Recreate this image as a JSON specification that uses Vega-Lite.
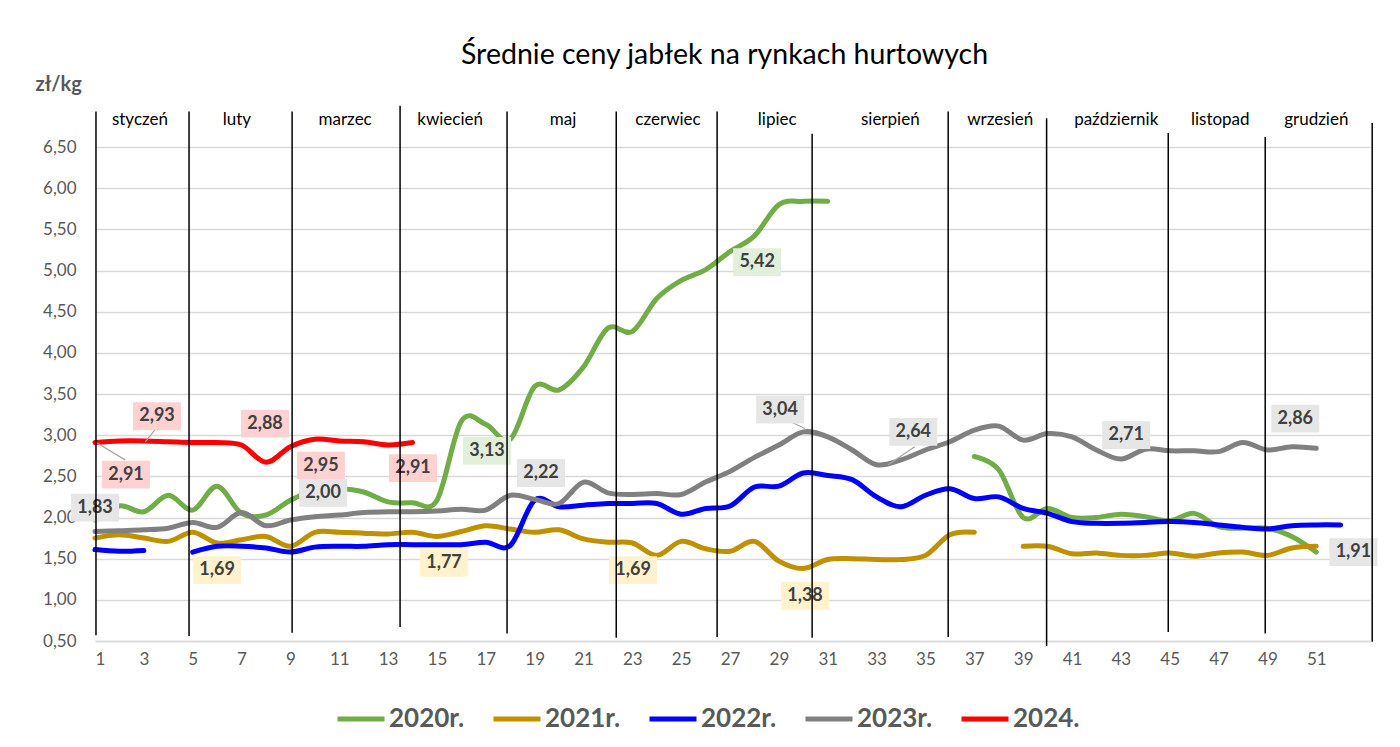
{
  "$schema": "https://vega.github.io/schema/vega-lite/v6.json",
  "width": 1275,
  "height": 494,
  "autosize": "none",
  "padding": {"left": 95, "top": 147, "right": 30, "bottom": 106},
  "background": "white",
  "title": {"text": "Średnie ceny jabłek na rynkach hurtowych", "font": "Lato", "fontSize": 28.5, "fontWeight": "normal", "color": "#000000", "anchor": "middle", "frame": "group", "offset": 5, "dx": -8},
  "config": {"view": {"stroke": null}, "font": "Lato"},
  "datasets": {
    "prices": [
      {"w":1,"s":"2020r.","g":"a","v":1.97},{"w":2,"s":"2020r.","g":"a","v":2.14},{"w":3,"s":"2020r.","g":"a","v":2.07},{"w":4,"s":"2020r.","g":"a","v":2.27},{"w":5,"s":"2020r.","g":"a","v":2.09},{"w":6,"s":"2020r.","g":"a","v":2.38},{"w":7,"s":"2020r.","g":"a","v":2.05},{"w":8,"s":"2020r.","g":"a","v":2.03},{"w":9,"s":"2020r.","g":"a","v":2.21},{"w":10,"s":"2020r.","g":"a","v":2.33},{"w":11,"s":"2020r.","g":"a","v":2.35},{"w":12,"s":"2020r.","g":"a","v":2.31},{"w":13,"s":"2020r.","g":"a","v":2.19},{"w":14,"s":"2020r.","g":"a","v":2.18},{"w":15,"s":"2020r.","g":"a","v":2.21},{"w":16,"s":"2020r.","g":"a","v":3.17},{"w":17,"s":"2020r.","g":"a","v":3.13},{"w":18,"s":"2020r.","g":"a","v":2.95},{"w":19,"s":"2020r.","g":"a","v":3.59},{"w":20,"s":"2020r.","g":"a","v":3.55},{"w":21,"s":"2020r.","g":"a","v":3.83},{"w":22,"s":"2020r.","g":"a","v":4.30},{"w":23,"s":"2020r.","g":"a","v":4.26},{"w":24,"s":"2020r.","g":"a","v":4.66},{"w":25,"s":"2020r.","g":"a","v":4.88},{"w":26,"s":"2020r.","g":"a","v":5.01},{"w":27,"s":"2020r.","g":"a","v":5.23},{"w":28,"s":"2020r.","g":"a","v":5.42},{"w":29,"s":"2020r.","g":"a","v":5.80},{"w":30,"s":"2020r.","g":"a","v":5.84},{"w":31,"s":"2020r.","g":"a","v":5.84},
      {"w":37,"s":"2020r.","g":"b","v":2.74},{"w":38,"s":"2020r.","g":"b","v":2.58},{"w":39,"s":"2020r.","g":"b","v":2.00},{"w":40,"s":"2020r.","g":"b","v":2.11},{"w":41,"s":"2020r.","g":"b","v":2.00},{"w":42,"s":"2020r.","g":"b","v":2.00},{"w":43,"s":"2020r.","g":"b","v":2.04},{"w":44,"s":"2020r.","g":"b","v":2.01},{"w":45,"s":"2020r.","g":"b","v":1.96},{"w":46,"s":"2020r.","g":"b","v":2.05},{"w":47,"s":"2020r.","g":"b","v":1.89},{"w":48,"s":"2020r.","g":"b","v":1.87},{"w":49,"s":"2020r.","g":"b","v":1.87},{"w":50,"s":"2020r.","g":"b","v":1.77},{"w":51,"s":"2020r.","g":"b","v":1.58},
      {"w":1,"s":"2021r.","g":"a","v":1.75},{"w":2,"s":"2021r.","g":"a","v":1.79},{"w":3,"s":"2021r.","g":"a","v":1.75},{"w":4,"s":"2021r.","g":"a","v":1.71},{"w":5,"s":"2021r.","g":"a","v":1.82},{"w":6,"s":"2021r.","g":"a","v":1.69},{"w":7,"s":"2021r.","g":"a","v":1.73},{"w":8,"s":"2021r.","g":"a","v":1.77},{"w":9,"s":"2021r.","g":"a","v":1.65},{"w":10,"s":"2021r.","g":"a","v":1.82},{"w":11,"s":"2021r.","g":"a","v":1.82},{"w":12,"s":"2021r.","g":"a","v":1.81},{"w":13,"s":"2021r.","g":"a","v":1.80},{"w":14,"s":"2021r.","g":"a","v":1.82},{"w":15,"s":"2021r.","g":"a","v":1.77},{"w":16,"s":"2021r.","g":"a","v":1.83},{"w":17,"s":"2021r.","g":"a","v":1.90},{"w":18,"s":"2021r.","g":"a","v":1.86},{"w":19,"s":"2021r.","g":"a","v":1.82},{"w":20,"s":"2021r.","g":"a","v":1.85},{"w":21,"s":"2021r.","g":"a","v":1.74},{"w":22,"s":"2021r.","g":"a","v":1.70},{"w":23,"s":"2021r.","g":"a","v":1.69},{"w":24,"s":"2021r.","g":"a","v":1.54},{"w":25,"s":"2021r.","g":"a","v":1.71},{"w":26,"s":"2021r.","g":"a","v":1.62},{"w":27,"s":"2021r.","g":"a","v":1.59},{"w":28,"s":"2021r.","g":"a","v":1.71},{"w":29,"s":"2021r.","g":"a","v":1.47},{"w":30,"s":"2021r.","g":"a","v":1.38},{"w":31,"s":"2021r.","g":"a","v":1.49},{"w":32,"s":"2021r.","g":"a","v":1.50},{"w":33,"s":"2021r.","g":"a","v":1.49},{"w":34,"s":"2021r.","g":"a","v":1.49},{"w":35,"s":"2021r.","g":"a","v":1.54},{"w":36,"s":"2021r.","g":"a","v":1.79},{"w":37,"s":"2021r.","g":"a","v":1.82},
      {"w":39,"s":"2021r.","g":"b","v":1.65},{"w":40,"s":"2021r.","g":"b","v":1.65},{"w":41,"s":"2021r.","g":"b","v":1.56},{"w":42,"s":"2021r.","g":"b","v":1.57},{"w":43,"s":"2021r.","g":"b","v":1.54},{"w":44,"s":"2021r.","g":"b","v":1.54},{"w":45,"s":"2021r.","g":"b","v":1.57},{"w":46,"s":"2021r.","g":"b","v":1.53},{"w":47,"s":"2021r.","g":"b","v":1.57},{"w":48,"s":"2021r.","g":"b","v":1.58},{"w":49,"s":"2021r.","g":"b","v":1.54},{"w":50,"s":"2021r.","g":"b","v":1.63},{"w":51,"s":"2021r.","g":"b","v":1.65},
      {"w":1,"s":"2022r.","g":"a","v":1.61},{"w":2,"s":"2022r.","g":"a","v":1.59},{"w":3,"s":"2022r.","g":"a","v":1.60},
      {"w":5,"s":"2022r.","g":"b","v":1.58},{"w":6,"s":"2022r.","g":"b","v":1.65},{"w":7,"s":"2022r.","g":"b","v":1.65},{"w":8,"s":"2022r.","g":"b","v":1.63},{"w":9,"s":"2022r.","g":"b","v":1.58},{"w":10,"s":"2022r.","g":"b","v":1.64},{"w":11,"s":"2022r.","g":"b","v":1.65},{"w":12,"s":"2022r.","g":"b","v":1.65},{"w":13,"s":"2022r.","g":"b","v":1.67},{"w":14,"s":"2022r.","g":"b","v":1.67},{"w":15,"s":"2022r.","g":"b","v":1.67},{"w":16,"s":"2022r.","g":"b","v":1.67},{"w":17,"s":"2022r.","g":"b","v":1.70},{"w":18,"s":"2022r.","g":"b","v":1.66},{"w":19,"s":"2022r.","g":"b","v":2.21},{"w":20,"s":"2022r.","g":"b","v":2.13},{"w":21,"s":"2022r.","g":"b","v":2.15},{"w":22,"s":"2022r.","g":"b","v":2.17},{"w":23,"s":"2022r.","g":"b","v":2.17},{"w":24,"s":"2022r.","g":"b","v":2.17},{"w":25,"s":"2022r.","g":"b","v":2.04},{"w":26,"s":"2022r.","g":"b","v":2.11},{"w":27,"s":"2022r.","g":"b","v":2.14},{"w":28,"s":"2022r.","g":"b","v":2.37},{"w":29,"s":"2022r.","g":"b","v":2.38},{"w":30,"s":"2022r.","g":"b","v":2.54},{"w":31,"s":"2022r.","g":"b","v":2.51},{"w":32,"s":"2022r.","g":"b","v":2.46},{"w":33,"s":"2022r.","g":"b","v":2.25},{"w":34,"s":"2022r.","g":"b","v":2.13},{"w":35,"s":"2022r.","g":"b","v":2.27},{"w":36,"s":"2022r.","g":"b","v":2.35},{"w":37,"s":"2022r.","g":"b","v":2.23},{"w":38,"s":"2022r.","g":"b","v":2.25},{"w":39,"s":"2022r.","g":"b","v":2.11},{"w":40,"s":"2022r.","g":"b","v":2.05},{"w":41,"s":"2022r.","g":"b","v":1.95},{"w":42,"s":"2022r.","g":"b","v":1.93},{"w":43,"s":"2022r.","g":"b","v":1.93},{"w":44,"s":"2022r.","g":"b","v":1.94},{"w":45,"s":"2022r.","g":"b","v":1.95},{"w":46,"s":"2022r.","g":"b","v":1.94},{"w":47,"s":"2022r.","g":"b","v":1.91},{"w":48,"s":"2022r.","g":"b","v":1.88},{"w":49,"s":"2022r.","g":"b","v":1.86},{"w":50,"s":"2022r.","g":"b","v":1.90},{"w":51,"s":"2022r.","g":"b","v":1.91},{"w":52,"s":"2022r.","g":"b","v":1.91},
      {"w":1,"s":"2023r.","g":"a","v":1.83},{"w":2,"s":"2023r.","g":"a","v":1.84},{"w":3,"s":"2023r.","g":"a","v":1.85},{"w":4,"s":"2023r.","g":"a","v":1.87},{"w":5,"s":"2023r.","g":"a","v":1.94},{"w":6,"s":"2023r.","g":"a","v":1.88},{"w":7,"s":"2023r.","g":"a","v":2.06},{"w":8,"s":"2023r.","g":"a","v":1.90},{"w":9,"s":"2023r.","g":"a","v":1.97},{"w":10,"s":"2023r.","g":"a","v":2.01},{"w":11,"s":"2023r.","g":"a","v":2.03},{"w":12,"s":"2023r.","g":"a","v":2.06},{"w":13,"s":"2023r.","g":"a","v":2.07},{"w":14,"s":"2023r.","g":"a","v":2.07},{"w":15,"s":"2023r.","g":"a","v":2.08},{"w":16,"s":"2023r.","g":"a","v":2.10},{"w":17,"s":"2023r.","g":"a","v":2.09},{"w":18,"s":"2023r.","g":"a","v":2.27},{"w":19,"s":"2023r.","g":"a","v":2.22},{"w":20,"s":"2023r.","g":"a","v":2.17},{"w":21,"s":"2023r.","g":"a","v":2.43},{"w":22,"s":"2023r.","g":"a","v":2.30},{"w":23,"s":"2023r.","g":"a","v":2.28},{"w":24,"s":"2023r.","g":"a","v":2.29},{"w":25,"s":"2023r.","g":"a","v":2.28},{"w":26,"s":"2023r.","g":"a","v":2.43},{"w":27,"s":"2023r.","g":"a","v":2.56},{"w":28,"s":"2023r.","g":"a","v":2.73},{"w":29,"s":"2023r.","g":"a","v":2.88},{"w":30,"s":"2023r.","g":"a","v":3.04},{"w":31,"s":"2023r.","g":"a","v":2.98},{"w":32,"s":"2023r.","g":"a","v":2.82},{"w":33,"s":"2023r.","g":"a","v":2.64},{"w":34,"s":"2023r.","g":"a","v":2.70},{"w":35,"s":"2023r.","g":"a","v":2.82},{"w":36,"s":"2023r.","g":"a","v":2.92},{"w":37,"s":"2023r.","g":"a","v":3.06},{"w":38,"s":"2023r.","g":"a","v":3.11},{"w":39,"s":"2023r.","g":"a","v":2.94},{"w":40,"s":"2023r.","g":"a","v":3.02},{"w":41,"s":"2023r.","g":"a","v":2.98},{"w":42,"s":"2023r.","g":"a","v":2.82},{"w":43,"s":"2023r.","g":"a","v":2.71},{"w":44,"s":"2023r.","g":"a","v":2.83},{"w":45,"s":"2023r.","g":"a","v":2.81},{"w":46,"s":"2023r.","g":"a","v":2.81},{"w":47,"s":"2023r.","g":"a","v":2.80},{"w":48,"s":"2023r.","g":"a","v":2.91},{"w":49,"s":"2023r.","g":"a","v":2.82},{"w":50,"s":"2023r.","g":"a","v":2.86},{"w":51,"s":"2023r.","g":"a","v":2.84},
      {"w":1,"s":"2024.","g":"a","v":2.91},{"w":2,"s":"2024.","g":"a","v":2.93},{"w":3,"s":"2024.","g":"a","v":2.93},{"w":4,"s":"2024.","g":"a","v":2.92},{"w":5,"s":"2024.","g":"a","v":2.91},{"w":6,"s":"2024.","g":"a","v":2.91},{"w":7,"s":"2024.","g":"a","v":2.88},{"w":8,"s":"2024.","g":"a","v":2.67},{"w":9,"s":"2024.","g":"a","v":2.86},{"w":10,"s":"2024.","g":"a","v":2.95},{"w":11,"s":"2024.","g":"a","v":2.93},{"w":12,"s":"2024.","g":"a","v":2.92},{"w":13,"s":"2024.","g":"a","v":2.88},{"w":14,"s":"2024.","g":"a","v":2.91}
    ],
    "labels": [
      {"t":"2,93","s":"2024.","lx":3.54,"ly":3.23},
      {"t":"2,91","s":"2024.","lx":2.27,"ly":2.52},
      {"t":"2,88","s":"2024.","lx":7.96,"ly":3.14},
      {"t":"2,95","s":"2024.","lx":10.25,"ly":2.63},
      {"t":"2,91","s":"2024.","lx":14.02,"ly":2.6},
      {"t":"3,13","s":"2020r.","lx":17.05,"ly":2.81},
      {"t":"5,42","s":"2020r.","lx":28.11,"ly":5.1},
      {"t":"1,83","s":"2023r.","lx":1.0,"ly":2.12},
      {"t":"2,00","s":"2023r.","lx":10.34,"ly":2.3},
      {"t":"2,22","s":"2023r.","lx":19.26,"ly":2.54},
      {"t":"3,04","s":"2023r.","lx":29.05,"ly":3.31},
      {"t":"2,64","s":"2023r.","lx":34.5,"ly":3.04},
      {"t":"2,71","s":"2023r.","lx":43.22,"ly":3.0},
      {"t":"2,86","s":"2023r.","lx":50.14,"ly":3.2},
      {"t":"1,91","s":"2022r.","lx":52.52,"ly":1.58},
      {"t":"1,69","s":"2021r.","lx":6.0,"ly":1.36},
      {"t":"1,77","s":"2021r.","lx":15.29,"ly":1.45},
      {"t":"1,69","s":"2021r.","lx":23.03,"ly":1.36},
      {"t":"1,38","s":"2021r.","lx":30.07,"ly":1.05}
    ],
    "leaders": [
      {"x1":3.06,"y1":2.92,"x2":3.47,"y2":3.07},
      {"x1":1.0,"y1":2.92,"x2":2.23,"y2":2.7},
      {"x1":29.05,"y1":3.22,"x2":30.07,"y2":3.08},
      {"x1":34.56,"y1":2.86,"x2":33.47,"y2":2.64}
    ],
    "dividers": [
      {"x":1.04,"top":6.93,"bot":0.57},
      {"x":4.85,"top":6.93,"bot":0.56},
      {"x":9.07,"top":6.93,"bot":0.6},
      {"x":13.49,"top":7.0,"bot":0.67},
      {"x":17.87,"top":6.93,"bot":0.59},
      {"x":22.34,"top":6.93,"bot":0.54},
      {"x":26.47,"top":6.93,"bot":0.55},
      {"x":30.36,"top":6.66,"bot":0.54},
      {"x":35.93,"top":6.93,"bot":0.55},
      {"x":39.96,"top":6.85,"bot":0.44},
      {"x":44.94,"top":6.67,"bot":0.61},
      {"x":48.91,"top":6.62,"bot":0.59},
      {"x":53.29,"top":6.79,"bot":0.49}
    ],
    "months": [
      {"m":"styczeń","x":2.84},{"m":"luty","x":6.81},{"m":"marzec","x":11.24},{"m":"kwiecień","x":15.54},{"m":"maj","x":20.16},{"m":"czerwiec","x":24.46},{"m":"lipiec","x":28.93},{"m":"sierpień","x":33.56},{"m":"wrzesień","x":38.06},{"m":"październik","x":42.81},{"m":"listopad","x":47.07},{"m":"grudzień","x":51.0}
    ]
  },
  "layer": [
    {
      "data": {"name": "prices"},
      "mark": {"type": "line", "interpolate": "cardinal", "strokeWidth": 5, "strokeCap": "round", "strokeJoin": "round"},
      "encoding": {
        "x": {"field": "w", "type": "quantitative", "scale": {"domain": [1, 53.2], "nice": false, "zero": false},
          "axis": {"title": null, "values": [1,3,5,7,9,11,13,15,17,19,21,23,25,27,29,31,33,35,37,39,41,43,45,47,49,51], "format": "d", "labelFont": "Lato", "labelFontSize": 17, "labelColor": "#595959", "grid": false, "ticks": false, "domain": true, "domainColor": "#D9D9D9", "domainWidth": 1.5, "labelPadding": 10}},
        "y": {"field": "v", "type": "quantitative", "scale": {"domain": [0.5, 6.5], "nice": false, "zero": false},
          "axis": {"title": "zł/kg", "titleAngle": 0, "titleAlign": "left", "titleBaseline": "alphabetic", "titleX": -60, "titleY": -57, "titleFont": "Lato", "titleFontSize": 20, "titleFontWeight": "bold", "titleColor": "#595959",
            "values": [0.5,1,1.5,2,2.5,3,3.5,4,4.5,5,5.5,6,6.5], "labelExpr": "replace(format(datum.value, '.2f'), '.', ',')", "labelFont": "Lato", "labelFontSize": 17, "labelColor": "#595959", "labelPadding": 19, "grid": true, "gridColor": "#D9D9D9", "gridWidth": 1.5, "ticks": false, "domain": false}},
        "color": {"field": "s", "type": "nominal", "scale": {"domain": ["2020r.","2021r.","2022r.","2023r.","2024."], "range": ["#70AD47","#BF9000","#0000FF","#808080","#FF0000"]},
          "legend": {"title": null, "orient": "none", "legendX": 240, "legendY": 546, "direction": "horizontal", "symbolType": "stroke", "symbolSize": 2209, "symbolStrokeWidth": 5, "labelFont": "Lato", "labelFontSize": 26, "labelFontWeight": "bold", "labelColor": "#595959", "labelOffset": 2, "columnPadding": 18, "labelLimit": 300}},
        "detail": {"field": "g", "type": "nominal"}
      }
    },
    {
      "data": {"name": "leaders"},
      "mark": {"type": "rule", "color": "#A6A6A6", "strokeWidth": 1.2},
      "encoding": {
        "x": {"field": "x1", "type": "quantitative", "scale": {"domain": [1, 53.2], "nice": false, "zero": false}},
        "y": {"field": "y1", "type": "quantitative", "scale": {"domain": [0.5, 6.5], "nice": false, "zero": false}},
        "x2": {"field": "x2"},
        "y2": {"field": "y2"}
      }
    },
    {
      "data": {"name": "labels"},
      "mark": {"type": "point", "shape": "M-1,-0.58L1,-0.58L1,0.58L-1,0.58Z", "size": 2304, "filled": true, "opacity": 1, "strokeWidth": 0},
      "encoding": {
        "x": {"field": "lx", "type": "quantitative", "scale": {"domain": [1, 53.2], "nice": false, "zero": false}},
        "y": {"field": "ly", "type": "quantitative", "scale": {"domain": [0.5, 6.5], "nice": false, "zero": false}},
        "fill": {"field": "s", "type": "nominal", "scale": {"domain": ["2020r.","2021r.","2022r.","2023r.","2024."], "range": ["#E2EFDA","#FFF2CC","#E6E6E6","#E6E6E6","#FFD1D1"]}, "legend": null}
      }
    },
    {
      "data": {"name": "labels"},
      "mark": {"type": "text", "font": "Lato", "fontSize": 18, "fontWeight": "bold", "color": "#404040", "align": "center", "baseline": "middle"},
      "encoding": {
        "x": {"field": "lx", "type": "quantitative", "scale": {"domain": [1, 53.2], "nice": false, "zero": false}},
        "y": {"field": "ly", "type": "quantitative", "scale": {"domain": [0.5, 6.5], "nice": false, "zero": false}},
        "text": {"field": "t"}
      }
    },
    {
      "data": {"name": "dividers"},
      "mark": {"type": "rule", "color": "#000000", "strokeWidth": 1.5},
      "encoding": {
        "x": {"field": "x", "type": "quantitative", "scale": {"domain": [1, 53.2], "nice": false, "zero": false}},
        "y": {"field": "top", "type": "quantitative", "scale": {"domain": [0.5, 6.5], "nice": false, "zero": false}},
        "y2": {"field": "bot"}
      }
    },
    {
      "data": {"name": "months"},
      "mark": {"type": "text", "font": "Lato", "fontSize": 17, "color": "#000000", "align": "center", "baseline": "middle"},
      "encoding": {
        "x": {"field": "x", "type": "quantitative", "scale": {"domain": [1, 53.2], "nice": false, "zero": false}},
        "y": {"datum": 6.83, "type": "quantitative", "scale": {"domain": [0.5, 6.5], "nice": false, "zero": false}},
        "text": {"field": "m"}
      }
    }
  ]
}
